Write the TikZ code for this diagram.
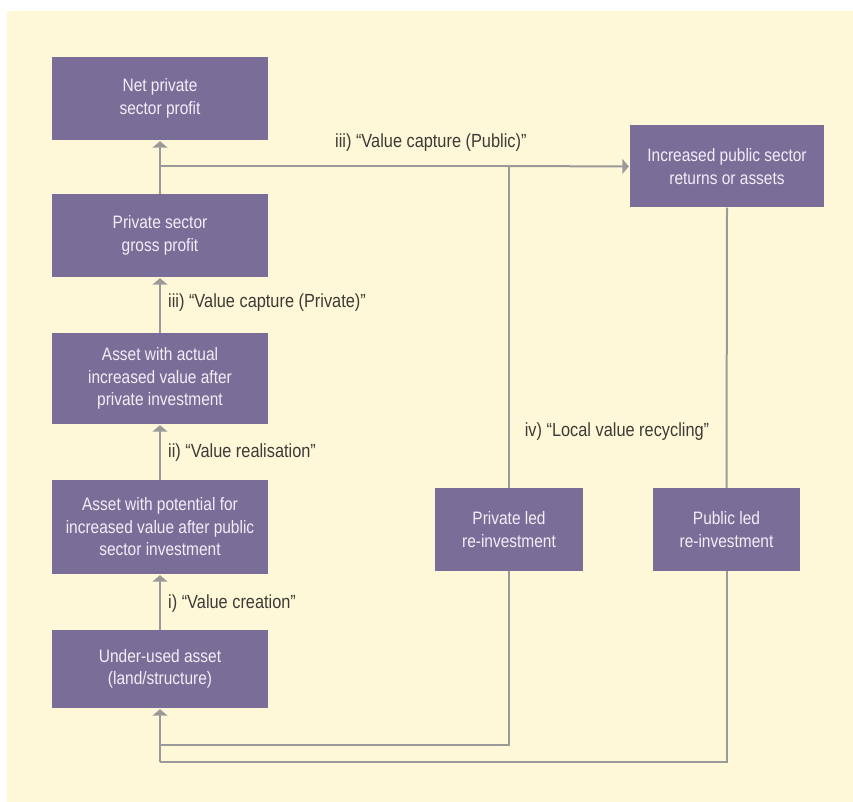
\documentclass[tikz,border=0pt]{standalone}
\usepackage{fontspec}
\setmainfont{Liberation Sans}[FakeStretch=0.86]
\usetikzlibrary{arrows.meta}
\definecolor{cream}{HTML}{FFF8D8}
\definecolor{boxfill}{HTML}{7A6E98}
\definecolor{boxtext}{HTML}{F2EEF8}
\definecolor{linegray}{HTML}{9A9A9A}
\definecolor{labeltext}{HTML}{3C3A36}
\tikzset{
  stepbox/.style={fill=boxfill, draw=none, text=boxtext, align=center,
    font=\fontsize{18}{22.5}\selectfont, inner sep=0pt},
  conn/.style={draw=linegray, line width=2pt},
  arr/.style={conn, -{Triangle[width=15pt,length=6.5pt]}, shorten >=1pt},
  lbl/.style={text=labeltext, font=\fontsize{19}{22}\selectfont, inner sep=0pt}
}
\begin{document}
\begin{tikzpicture}[x=1pt,y=-1pt]
\useasboundingbox (0,0) rectangle (853,802);
\fill[white] (0,0) rectangle (853,802);
\fill[cream] (7,11) rectangle (853,802);

% left column boxes
\node[stepbox, minimum width=216pt, minimum height=83pt] (net) at (160,98.5) {Net private\\sector profit};
\node[stepbox, minimum width=216pt, minimum height=83pt] (gross) at (160,235.5) {Private sector\\gross profit};
\node[stepbox, minimum width=216pt, minimum height=91pt] (actual) at (160,378.5) {Asset with actual\\increased value after\\private investment};
\node[stepbox, minimum width=216pt, minimum height=94pt] (potential) at (160,527) {Asset with potential for\\increased value after public\\sector investment};
\node[stepbox, minimum width=216pt, minimum height=78pt] (under) at (160,669) {Under-used asset\\(land/structure)};

% right boxes
\node[stepbox, minimum width=194pt, minimum height=82pt] (public) at (727,166.5) {Increased public sector\\returns or assets};
\node[stepbox, minimum width=148pt, minimum height=83pt] (privled) at (509,529.5) {Private led\\re-investment};
\node[stepbox, minimum width=147pt, minimum height=83pt] (publed) at (726.5,529.5) {Public led\\re-investment};

% coordinates
\coordinate (j1) at (160,166);
\coordinate (j2) at (509,166);
\coordinate (c1) at (509,745);
\coordinate (c2) at (160,745);
\coordinate (d1) at (726.5,762);
\coordinate (d2) at (160,762);

% vertical arrows
\draw[arr] (gross.north) -- (net.south);
\draw[arr] (actual.north) -- (gross.south);
\draw[arr] (potential.north) -- (actual.south);
\draw[arr] (under.north) -- (potential.south);

% value capture public
\draw[conn] (j1) -- (j2);
\draw[arr] (j2) -- (public.west);
\draw[conn] (j2) -- (privled.north);
\draw[conn] (public.south) -- (publed.north);

% recycling back
\draw[conn] (privled.south) -- (c1) -- (c2);
\draw[conn] (publed.south) -- (d1) -- (d2);
\draw[arr] (d2) -- (under.south);

% labels
\node[lbl, anchor=west] (lpub) at (335,143) {iii) “Value capture (Public)”};
\node[lbl, anchor=west] (lpriv) at (168,303) {iii) “Value capture (Private)”};
\node[lbl, anchor=west] (lreal) at (168,453) {ii) “Value realisation”};
\node[lbl, anchor=west] (lcre) at (168,604) {i) “Value creation”};
\node[lbl] (lrec) at (617,432) {iv) “Local value recycling”};
\end{tikzpicture}
\end{document}
